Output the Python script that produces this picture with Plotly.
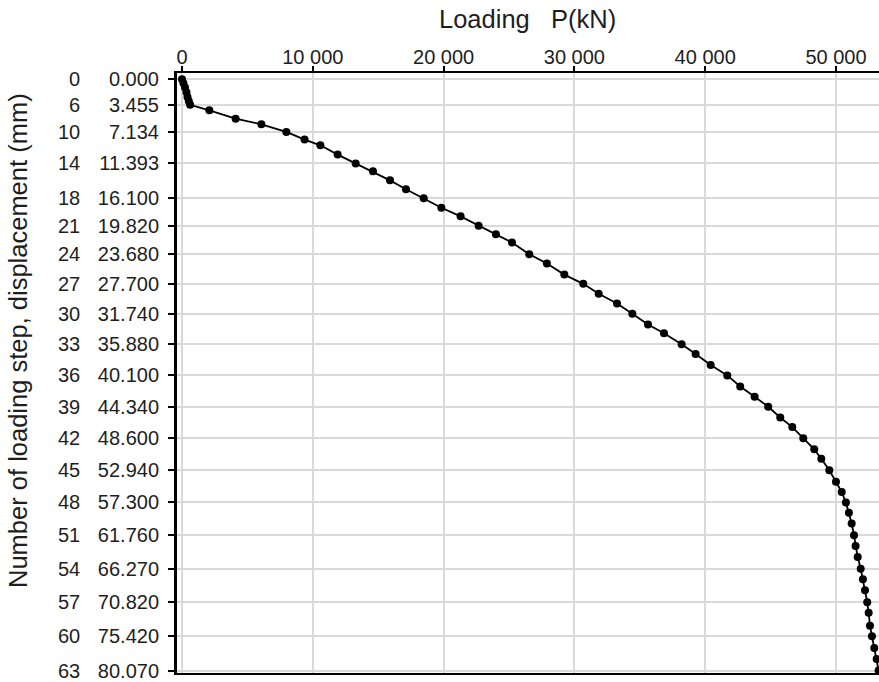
import plotly.graph_objects as go

# Loading steps 0..63
steps = list(range(64))

# Displacement (mm) for each step
displacement = [
    0.000, 0.55, 1.12, 1.75, 2.40, 2.95, 3.455, 4.20, 5.33, 6.10,
    7.134, 8.17, 8.94, 10.20, 11.393, 12.47, 13.69, 14.90, 16.100, 17.40,
    18.56, 19.820, 21.00, 22.10, 23.680, 24.95, 26.45, 27.700, 29.05, 30.35,
    31.740, 33.20, 34.40, 35.880, 37.20, 38.70, 40.100, 41.60, 43.00, 44.340,
    45.80, 47.10, 48.600, 50.10, 51.40, 52.940, 54.50, 55.90, 57.300, 58.70,
    60.15, 61.760, 63.20, 64.70, 66.270, 67.70, 69.20, 70.820, 72.25, 74.00,
    75.420, 77.00, 78.50, 80.070,
]

# Loading P (kN) for each step
load = [
    0, 110, 230, 340, 420, 520, 620, 2090, 4100, 6070,
    7980, 9370, 10580, 11900, 13280, 14600, 15900, 17125, 18480, 19830,
    21300, 22680, 24000, 25230, 26550, 27900, 29230, 30680, 31860, 33260,
    34430, 35630, 36850, 38200, 39270, 40420, 41690, 42680, 43780, 44820,
    45740, 46660, 47500, 48340, 48880, 49490, 50000, 50440, 50760, 50990,
    51200, 51380, 51500, 51660, 51890, 52060, 52220, 52390, 52500, 52600,
    52750, 52930, 53110, 53260,
]

# Y-axis tick labels: step number and displacement
tick_steps = ["0", "6", "10", "14", "18", "21", "24", "27", "30", "33",
              "36", "39", "42", "45", "48", "51", "54", "57", "60", "63"]
tick_disp = [0.000, 3.455, 7.134, 11.393, 16.100, 19.820, 23.680, 27.700,
             31.740, 35.880, 40.100, 44.340, 48.600, 52.940, 57.300, 61.760,
             66.270, 70.820, 75.420, 80.070]
tick_disp_text = ["0.000", "3.455", "7.134", "11.393", "16.100", "19.820",
                  "23.680", "27.700", "31.740", "35.880", "40.100", "44.340",
                  "48.600", "52.940", "57.300", "61.760", "66.270", "70.820",
                  "75.420", "80.070"]

# X-axis ticks
x_tickvals = [0, 10000, 20000, 30000, 40000, 50000]
x_ticktext = ["0", "10 000", "20 000", "30 000", "40 000", "50 000"]

FONT = "Liberation Sans, Arial, sans-serif"
TXT = "#1e1e1e"

fig = go.Figure()
fig.add_trace(go.Scatter(
    x=load, y=displacement, mode="lines+markers",
    line=dict(color="black", width=1.8),
    marker=dict(color="black", size=8),
    showlegend=False,
))

fig.update_layout(
    width=879, height=682,
    margin=dict(l=177, r=0, t=73, b=9),
    paper_bgcolor="white", plot_bgcolor="white",
    font=dict(family=FONT, color=TXT, size=20),
    xaxis=dict(
        side="top", range=[-382, 53290],
        tickvals=x_tickvals, ticktext=x_ticktext,
        tickfont=dict(size=20, family=FONT, color=TXT),
        ticklabelstandoff=-6,
        showgrid=True, gridcolor="#d9d9d9", gridwidth=1.5,
        showline=True, linecolor="black", linewidth=2, mirror=True,
        ticks="outside", ticklen=5, tickwidth=1.5, tickcolor="black",
        zeroline=False,
    ),
    yaxis=dict(
        range=[80.4, -0.85],
        tickvals=tick_disp, ticktext=tick_disp_text,
        tickfont=dict(size=20, family=FONT, color=TXT),
        ticklabelstandoff=5,
        showgrid=True, gridcolor="#d9d9d9", gridwidth=1.5,
        showline=True, linecolor="black", linewidth=3,
        ticks="outside", ticklen=6, tickwidth=2, tickcolor="black",
        zeroline=False,
    ),
)

annotations = []
for s, d in zip(tick_steps, tick_disp):
    annotations.append(dict(
        text=s, x=(82 - 177) / 702, xref="paper", y=d, yref="y",
        xanchor="right", yanchor="middle", showarrow=False,
        font=dict(size=20, family=FONT, color=TXT),
    ))
annotations.append(dict(
    text="Number of loading step, displacement (mm)",
    x=(18 - 177) / 702, xref="paper", y=1 - (341 - 73) / 600, yref="paper",
    xanchor="center", yanchor="middle", textangle=-90, showarrow=False,
    font=dict(size=25.5, family=FONT, color=TXT),
))
annotations.append(dict(
    text="Loading   P(kN)",
    x=(527 - 177) / 702, xref="paper", y=1 + (73 - 19) / 600, yref="paper",
    xanchor="center", yanchor="middle", showarrow=False,
    font=dict(size=25.5, family=FONT, color=TXT),
))
fig.update_layout(annotations=annotations)

fig.write_html("out.html", config={"displayModeBar": False},
               post_script="document.body.style.margin='0';")
